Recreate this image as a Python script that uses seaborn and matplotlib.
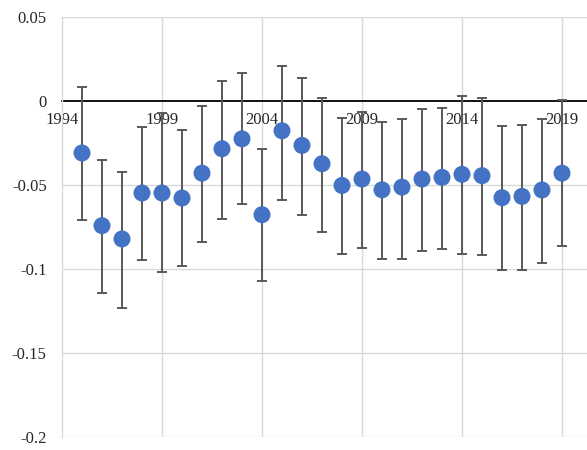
import numpy as np
import pandas as pd
import matplotlib
matplotlib.use("Agg")
import matplotlib.pyplot as plt
import seaborn as sns

years = list(range(1995, 2020))
estimate = [-0.031, -0.0742, -0.0821, -0.0548, -0.0548, -0.0578, -0.043, -0.0285,
            -0.0226, -0.0677, -0.0178, -0.0265, -0.0374, -0.0503, -0.0465, -0.0529,
            -0.0513, -0.0465, -0.0455, -0.0437, -0.0445, -0.0576, -0.0568, -0.053,
            -0.043]
upper = [0.0081, -0.035, -0.0425, -0.0158, -0.0075, -0.0176, -0.0028, 0.0119,
         0.0164, -0.0287, 0.0208, 0.0135, 0.0014, -0.0105, -0.0067, -0.0125,
         -0.0107, -0.0049, -0.004, 0.0026, 0.0014, -0.015, -0.0141, -0.0107,
         0.0005]
lower = [-0.0709, -0.114, -0.123, -0.0948, -0.1017, -0.0984, -0.0837, -0.0701,
         -0.0616, -0.1073, -0.059, -0.0679, -0.0782, -0.091, -0.0873, -0.0938,
         -0.0938, -0.0891, -0.0883, -0.091, -0.0919, -0.1004, -0.1004, -0.0964,
         -0.0865]
y_ticks = [0.05, 0, -0.05, -0.1, -0.15, -0.2]
y_labels = ["0.05", "0", "-0.05", "-0.1", "-0.15", "-0.2"]
x_ticks = [1994, 1999, 2004, 2009, 2014, 2019]

df = pd.DataFrame({"year": years, "est": estimate, "lo": lower, "hi": upper})

sns.set_style("white")
plt.rcParams["font.family"] = ["Liberation Serif", "DejaVu Serif"]

fig = plt.figure(figsize=(5.87, 4.5), dpi=100)
ax = fig.add_axes([62 / 587, 1 - 437.3 / 450, 525 / 587, 420.6 / 450])

grid_c = "#d9d9d9"
for y in y_ticks:
    if y != 0:
        ax.axhline(y, color=grid_c, lw=1.0, zorder=0)
for x in x_ticks[1:]:
    ax.axvline(x, color=grid_c, lw=1.0, zorder=0)

err = np.vstack([df["est"] - df["lo"], df["hi"] - df["est"]])
ax.errorbar(df["year"], df["est"], yerr=err, fmt="none", ecolor="#595959",
            elinewidth=1.4, capsize=3.5, capthick=1.4, zorder=2)
sns.scatterplot(data=df, x="year", y="est", ax=ax, color="#4472C4", s=150,
                edgecolor="none", zorder=3)

ax.set_xlim(1994, 2020.25)
ax.set_ylim(-0.2, 0.05)

ax.spines["bottom"].set_position(("data", 0))
ax.spines["bottom"].set_color("black")
ax.spines["bottom"].set_linewidth(1.3)
ax.spines["bottom"].set_zorder(1.5)
ax.spines["left"].set_color(grid_c)
ax.spines["left"].set_linewidth(1.0)
ax.spines["top"].set_visible(False)
ax.spines["right"].set_visible(False)

ax.set_xticks(x_ticks)
ax.set_xticklabels([str(x) for x in x_ticks], fontsize=12)
ax.set_yticks(y_ticks)
ax.set_yticklabels(y_labels, fontsize=12)
ax.tick_params(axis="x", length=0, pad=8)
ax.tick_params(axis="y", length=0, pad=11)
ax.set_xlabel("")
ax.set_ylabel("")

fig.savefig("out.png", dpi=100)
